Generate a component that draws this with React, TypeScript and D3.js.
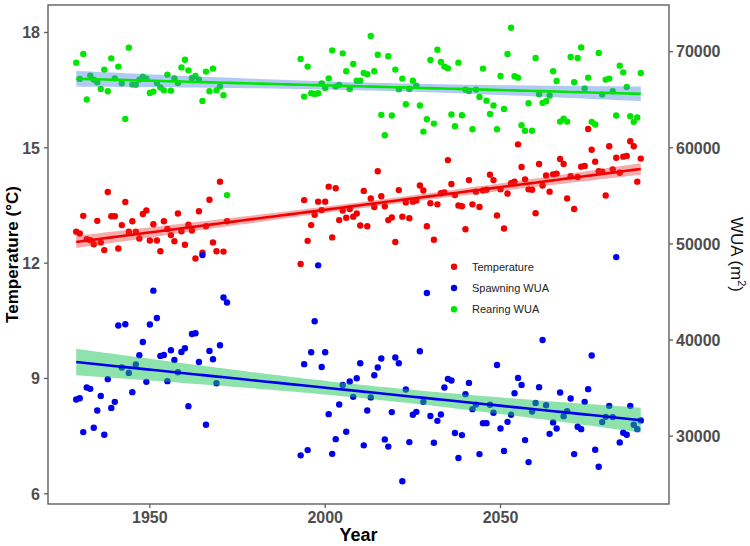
import React from "react";
import * as d3 from "d3";

// ---- data -------------------------------------------------------------
const PERIOD_1 = [1929, 1972];
const PERIOD_2 = [1993, 2090];
const years: number[] = [
  ...d3.range(PERIOD_1[0], PERIOD_1[1] + 1),
  ...d3.range(PERIOD_2[0], PERIOD_2[1] + 1),
];

const temperature = [
  12.82, 12.77, 13.23, 12.62, 12.60, 12.49, 13.10, 12.54, 12.34, 13.85,
  13.22, 13.22, 12.38, 12.99, 13.59, 12.82, 13.09, 12.82, 12.64, 13.28,
  13.37, 12.59, 13.01, 12.59, 12.31, 13.09, 12.89, 12.73, 12.57, 13.29,
  12.83, 12.48, 13.00, 12.85, 12.12, 13.35, 12.27, 12.96, 13.65, 12.54,
  12.31, 14.12, 12.30, 13.09,
  11.98, 13.64, 12.58, 12.99, 13.26, 13.60, 13.38, 13.60, 13.99, 12.67,
  13.95, 13.12, 13.37, 13.18, 13.41, 13.21, 13.29, 12.98, 13.88, 12.96,
  13.68, 13.46, 14.39, 13.74, 13.48, 13.12, 13.19, 12.55, 13.90, 13.21,
  13.58, 13.17, 13.60, 13.63, 14.02, 13.89, 12.96, 13.56, 12.61, 13.53,
  13.82, 13.84, 14.68, 14.06, 13.77, 13.50, 13.48, 12.88, 14.16, 13.53,
  13.86, 13.46, 13.89, 13.91, 14.30, 14.16, 13.24,
  13.92, 12.90, 13.81, 14.08, 14.12, 15.09, 14.50, 14.18, 13.92, 13.91,
  13.30, 14.58, 14.02, 14.28, 13.86, 14.31, 14.33, 14.71, 14.58, 13.68,
  14.26, 13.41, 14.24, 14.51, 14.53, 15.49, 14.95, 14.64, 14.39, 14.38,
  13.76, 15.04, 14.44, 14.74, 14.35, 14.77, 14.79, 15.17, 15.04, 14.12,
  14.72,
];

const spawningWUA = [
  33820, 33950, 30420, 35060, 34920, 30870, 32670, 34190, 30140, 35930,
  32940, 33570, 41510, 37140, 41640, 36580, 34580, 37450, 38420, 39800,
  35650, 41610, 45140, 42300, 38350, 38450, 35720, 38940, 37930, 36650,
  38760, 39150, 33120, 40630, 40710, 37720, 48840, 31180, 38870, 38000,
  35510, 39460, 44420, 43900,
  28000, 37490, 28550, 38730, 41950, 47770, 37200, 38730, 32290, 28160,
  29690, 33300, 35330, 30450, 35690, 34090, 36030, 37590, 29040, 32670,
  34030, 36340, 37140, 38080, 29660, 28910, 32500, 38180, 37590, 25300,
  34860, 29380, 32220, 32530, 38840, 33570, 44890, 32100, 29310, 31590,
  32260, 35060, 35960, 35790, 30320, 27720, 30110, 34370, 35540, 32810,
  33280, 28130, 31350, 31350, 33260, 32430, 37410,
  30800, 28450, 31490, 32220, 34470, 36060, 35330, 29590, 27300, 32570,
  33460, 35100, 40010, 33220, 30240, 31430, 30800, 34540, 32080, 32600,
  33920, 28130, 30970, 30730, 33570, 34890, 38390, 28580, 26810, 31460,
  32010, 33150, 31980, 48630, 29350, 30350, 30140, 33150, 31180, 30730,
  31640,
];

const rearingWUA = [
  68860, 67170, 69770, 65020, 67510, 67100, 66820, 66130, 68140, 65880,
  69310, 67230, 68450, 66710, 63010, 70420, 66580, 66550, 67100, 67410,
  67200, 65710, 65850, 66750, 66270, 65980, 67620, 65950, 67230, 66750,
  68370, 69170, 68060, 67270, 67480, 67100, 64880, 67930, 65880, 68240,
  65980, 66370, 65470, 55080,
  69250, 65330, 68450, 65670, 65610, 65670, 66710, 66230, 67230, 70140,
  66370, 66550, 69830, 67960, 66130, 68730, 66990, 66990, 67790, 67650,
  71640, 67960, 69690, 63430, 61310, 69520, 63360, 68140, 66090, 67200,
  64530, 66130, 66990, 66470, 64400, 61690, 62970, 69140, 62520, 70210,
  68940, 68450, 68270, 63460, 62240, 68860, 63390, 66060, 65920, 61930,
  66060, 65300, 68240, 64910, 63530, 64400, 61930, 67480, 64050, 69770,
  72500, 67440, 67300, 62350, 61770, 64630, 61770, 69350, 65570, 64680,
  64840, 65430, 67960, 66960, 62730, 63040, 62730, 69450, 66820, 69350,
  70450, 66190, 67300, 62700, 62420, 69870, 65540, 67100, 67200, 65880,
  63360, 68550, 67850, 66340, 63280, 62700, 63150, 67790,
];

const xTicks = [1950, 2000, 2050];
const tempTicks = [6, 9, 12, 15, 18];
const wuaTicks = [30000, 40000, 50000, 60000, 70000];
const WUA_PER_DEGREE = 4000; // secondary axis transform

// ---- layout ---------------------------------------------------------------
const W = 750;
const H = 546;
const M = { left: 48, right: 81, top: 5, bottom: 42 };
const FONT = "'Liberation Sans', Arial, Helvetica, sans-serif";
const T_CRIT = 1.977; // t(0.975, df ~140)

function fitLm(xs: number[], ys: number[]) {
  const n = xs.length;
  const mx = d3.mean(xs)!;
  const my = d3.mean(ys)!;
  let sxx = 0, sxy = 0;
  for (let i = 0; i < n; i++) {
    sxx += (xs[i] - mx) ** 2;
    sxy += (xs[i] - mx) * (ys[i] - my);
  }
  const b = sxy / sxx;
  const a = my - b * mx;
  let sse = 0;
  for (let i = 0; i < n; i++) sse += (ys[i] - a - b * xs[i]) ** 2;
  const s = Math.sqrt(sse / (n - 2));
  return {
    fit: (x: number) => a + b * x,
    se: (x: number) => s * Math.sqrt(1 / n + (x - mx) ** 2 / sxx),
  };
}

export default function App() {
  const series = [
    { key: "temp", label: "Temperature", values: temperature.map((v) => v), color: "#f20000", band: "#e83030", bandOp: 0.4 },
    { key: "spawn", label: "Spawning WUA", values: spawningWUA.map((v) => v / WUA_PER_DEGREE), color: "#0000ee", band: "#1ec85a", bandOp: 0.5 },
    { key: "rear", label: "Rearing WUA", values: rearingWUA.map((v) => v / WUA_PER_DEGREE), color: "#00e600", band: "#3a7be0", bandOp: 0.4 },
  ];

  const [x0, x1] = d3.extent(years) as [number, number];
  const xPad = (x1 - x0) * 0.05;
  const x = d3.scaleLinear().domain([x0 - xPad, x1 + xPad]).range([M.left, W - M.right]);

  const allY = series.flatMap((s) => s.values);
  const [y0, y1] = d3.extent(allY) as [number, number];
  const yPad = (y1 - y0) * 0.05;
  const y = d3.scaleLinear().domain([y0 - yPad, y1 + yPad]).range([H - M.bottom, M.top]);

  const xs = d3.range(x0, x1 + 0.001, (x1 - x0) / 80);

  const fits = series.map((s) => {
    const m = fitLm(years, s.values);
    const area = d3
      .area<number>()
      .x((d) => x(d))
      .y0((d) => y(m.fit(d) - T_CRIT * m.se(d)))
      .y1((d) => y(m.fit(d) + T_CRIT * m.se(d)));
    const line = d3
      .line<number>()
      .x((d) => x(d))
      .y((d) => y(m.fit(d)));
    return { area: area(xs)!, line: line(xs)! };
  });

  const pL = M.left;
  const pR = W - M.right;
  const pT = M.top;
  const pB = H - M.bottom;
  const axisCol = "#5e5e5e";
  const tickCol = "#4d4d4d";

  return (
    <svg
      width={W}
      height={H}
      style={{ position: "absolute", left: 0, top: 0, background: "#fff" }}
      fontFamily={FONT}
    >
      <rect x={0} y={0} width={W} height={H} fill="#fff" />
      {/* points */}
      {series.map((s) => (
        <g key={s.key}>
          {s.values.map((v, i) => (
            <circle key={i} cx={x(years[i])} cy={y(v)} r={3.2} fill={s.color} />
          ))}
        </g>
      ))}
      {/* confidence bands */}
      {series.map((s, i) => (
        <path key={s.key + "b"} d={fits[i].area} fill={s.band} fillOpacity={s.bandOp} />
      ))}
      {/* fitted lines */}
      {series.map((s, i) => (
        <path key={s.key + "l"} d={fits[i].line} fill="none" stroke={s.color} strokeWidth={2.6} />
      ))}

      {/* panel border */}
      <rect x={pL} y={pT} width={pR - pL} height={pB - pT} fill="none" stroke={axisCol} strokeWidth={1.4} />

      {/* left axis */}
      {tempTicks.map((t) => (
        <g key={"lt" + t}>
          <line x1={pL - 4} x2={pL} y1={y(t)} y2={y(t)} stroke={axisCol} strokeWidth={1.3} />
          <text x={pL - 8} y={y(t)} dy="0.36em" textAnchor="end" fontSize={16} fontWeight="bold" fill={tickCol}>
            {t}
          </text>
        </g>
      ))}
      {/* right axis */}
      {wuaTicks.map((t) => (
        <g key={"rt" + t}>
          <line x1={pR} x2={pR + 4} y1={y(t / WUA_PER_DEGREE)} y2={y(t / WUA_PER_DEGREE)} stroke={axisCol} strokeWidth={1.3} />
          <text x={pR + 7} y={y(t / WUA_PER_DEGREE)} dy="0.36em" textAnchor="start" fontSize={16} fontWeight="bold" fill={tickCol}>
            {t}
          </text>
        </g>
      ))}
      {/* bottom axis */}
      {xTicks.map((t) => (
        <g key={"bt" + t}>
          <line x1={x(t)} x2={x(t)} y1={pB} y2={pB + 4} stroke={axisCol} strokeWidth={1.3} />
          <text x={x(t)} y={523} textAnchor="middle" fontSize={16} fontWeight="bold" fill={tickCol}>
            {t}
          </text>
        </g>
      ))}

      {/* axis titles */}
      <text
        transform={`translate(18, ${(pT + pB) / 2}) rotate(-90)`}
        textAnchor="middle"
        fontSize={17}
        fontWeight="bold"
        fill="#000"
      >
        Temperature (°C)
      </text>
      <text x={(pL + pR) / 2} y={541} textAnchor="middle" fontSize={18} fontWeight="bold" fill="#000">
        Year
      </text>
      <text
        transform={`translate(731, ${(pT + pB) / 2}) rotate(90)`}
        textAnchor="middle"
        fontSize={17}
        fill="#111"
      >
        WUA (m<tspan fontSize={11} dy={-7}>2</tspan>
        <tspan dy={7}>)</tspan>
      </text>

      {/* legend */}
      {series.map((s, i) => (
        <g key={s.key + "lg"} transform={`translate(454, ${266.7 + i * 21.3})`}>
          <circle cx={0} cy={0} r={3.2} fill={s.color} />
          <text x={18} y={0} dy="0.36em" fontSize={11} fill="#222">
            {s.label}
          </text>
        </g>
      ))}
    </svg>
  );
}
